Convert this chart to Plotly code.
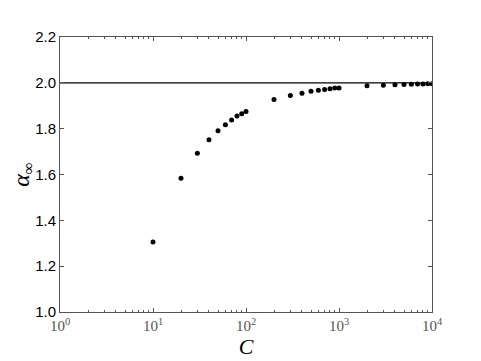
import plotly.graph_objects as go

# C values and asymptotic alpha
c_values = [10, 20, 30, 40, 50, 60, 70, 80, 90, 100,
            200, 300, 400, 500, 600, 700, 800, 900, 1000,
            2000, 3000, 4000, 5000, 6000, 7000, 8000, 9000, 10000]
alpha_inf = [1.306, 1.584, 1.693, 1.752, 1.791, 1.817, 1.838, 1.855, 1.865, 1.875,
             1.927, 1.945, 1.955, 1.963, 1.968, 1.971, 1.974, 1.977, 1.978,
             1.987, 1.990, 1.992, 1.993, 1.994, 1.995, 1.995, 1.996, 1.996]

ref_x = [1, 10000]
ref_y = [2.0, 2.0]

x_tickvals = [1, 10, 100, 1000, 10000]
x_ticktext = ["10<sup>0</sup>", "10<sup>1</sup>", "10<sup>2</sup>", "10<sup>3</sup>", "10<sup>4</sup>"]
y_tickvals = [1.0, 1.2, 1.4, 1.6, 1.8, 2.0, 2.2]
y_ticktext = ["1.0", "1.2", "1.4", "1.6", "1.8", "2.0", "2.2"]

fig = go.Figure()

# reference line at alpha = 2
fig.add_trace(
    go.Scatter(
        x=ref_x, y=ref_y, mode="lines",
        line=dict(color="black", width=1.2),
        showlegend=False
    )
)

fig.add_trace(
    go.Scatter(
        x=c_values, y=alpha_inf, mode="markers",
        marker=dict(color="black", size=5),
        showlegend=False
    )
)

# page body has an 8px margin, so the figure is shrunk and shifted to match
fig.update_layout(
    width=473, height=353,
    margin=dict(l=52, r=49, t=29, b=49),
    paper_bgcolor="white",
    plot_bgcolor="white",
    xaxis=dict(
        type="log", range=[0, 4],
        tickvals=x_tickvals, ticktext=x_ticktext,
        tickfont=dict(family="Liberation Serif", size=15, color="#555555"),
        ticks="inside", ticklen=4, tickcolor="#555555",
        minor=dict(ticks="inside", ticklen=2, tickcolor="#555555", dtick="D1"),
        showgrid=False, zeroline=False, automargin=False,
        showline=True, linecolor="#555555", linewidth=1, mirror="allticks",
        title=dict(text="<i>C</i>", font=dict(family="Liberation Serif", size=22, color="black"),
                   standoff=2),
    ),
    yaxis=dict(
        range=[1.0, 2.2],
        tickvals=y_tickvals, ticktext=y_ticktext,
        tickfont=dict(family="Liberation Sans", size=15, color="black"),
        ticks="inside", ticklen=4, tickcolor="#555555",
        showgrid=False, zeroline=False, automargin=False,
        showline=True, linecolor="#555555", linewidth=1, mirror="allticks",
        title=dict(text="<i>α</i><sub>∞</sub>", font=dict(family="Liberation Serif", size=24, color="black"),
                   standoff=10),
    ),
)

fig.write_html("out.html")
